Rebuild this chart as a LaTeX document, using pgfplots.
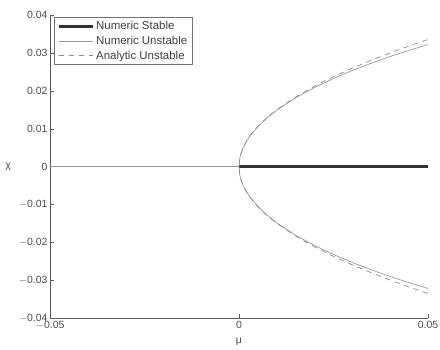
\documentclass[border=0pt]{standalone}
\usepackage{fontspec}
\setmainfont{Liberation Sans}
\usepackage{pgfplots}
\pgfplotsset{compat=1.18}
\begin{document}
\begin{tikzpicture}
\begin{axis}[
  scale only axis,
  width=378bp, height=303bp,
  xmin=-0.05, xmax=0.05, ymin=-0.04, ymax=0.04,
  scaled ticks=false,
  axis x line*=bottom, axis y line*=left,
  axis line style={black!65, line width=0.5pt},
  tick align=inside,
  major tick length=3.5bp,
  tick style={black!65},
  xtick={-0.05,0,0.05},
  xticklabels={$-$0.05,0,0.05},
  ytick={-0.04,-0.03,-0.02,-0.01,0,0.01,0.02,0.03,0.04},
  yticklabels={$-$0.04,$-$0.03,$-$0.02,$-$0.01,0,0.01,0.02,0.03,0.04},
  /pgf/number format/assume math mode=true,
  tick label style={font=\fontsize{10.5}{12}\selectfont, text=black!70},
  yticklabel style={xshift=1bp},
  xticklabel style={yshift=0bp},
  label style={font=\fontsize{10.5}{12}\selectfont, text=black!70},
  xlabel={μ},
  ylabel={χ},
  xlabel style={at={(axis description cs:0.5,-0.079)}, anchor=center},
  ylabel style={rotate=-90, at={(axis description cs:-0.111,0.5)}, anchor=center},
  legend style={at={(0.011,0.993)}, anchor=north west, draw=black!55, line width=0.4pt,
    font=\fontsize{11.5}{12.5}\selectfont, text=black!75, inner xsep=3pt, inner ysep=2pt, row sep=1pt,
    cells={anchor=west}},
  legend image post style={xscale=2.0},
]
\addplot[black!80, line width=2.8pt] coordinates {(0,0) (0.05,0)};
\addlegendentry{Numeric Stable}
\addplot[black!40, line width=0.7pt] coordinates {
(0.05,-0.0322) (0.045,-0.03067) (0.04,-0.02904) (0.035,-0.02727) (0.03,-0.02536)
(0.025,-0.02325) (0.02,-0.02087) (0.015,-0.01815) (0.01,-0.01488) (0.0075,-0.01291)
(0.005,-0.01057) (0.003,-0.00820) (0.002,-0.00670) (0.001,-0.00474) (0.0005,-0.00335)
(0.0002,-0.00212) (0,0)
(0.0002,0.00212) (0.0005,0.00335) (0.001,0.00474) (0.002,0.00670) (0.003,0.00820)
(0.005,0.01057) (0.0075,0.01291) (0.01,0.01488) (0.015,0.01815) (0.02,0.02087)
(0.025,0.02325) (0.03,0.02536) (0.035,0.02727) (0.04,0.02904) (0.045,0.03067) (0.05,0.0322)};
\addlegendentry{Numeric Unstable}
\addplot[black!45, line width=0.7pt, dashed, dash pattern=on 5.5bp off 4.5bp] coordinates {
(0.05,-0.03354) (0.045,-0.03182) (0.04,-0.03) (0.035,-0.02806) (0.03,-0.02598)
(0.025,-0.02372) (0.02,-0.02121) (0.015,-0.01837) (0.01,-0.015) (0.0075,-0.01299)
(0.005,-0.01061) (0.003,-0.00822) (0.002,-0.00671) (0.001,-0.00474) (0.0005,-0.00335)
(0.0002,-0.00212) (0,0)
(0.0002,0.00212) (0.0005,0.00335) (0.001,0.00474) (0.002,0.00671) (0.003,0.00822)
(0.005,0.01061) (0.0075,0.01299) (0.01,0.015) (0.015,0.01837) (0.02,0.02121)
(0.025,0.02372) (0.03,0.02598) (0.035,0.02806) (0.04,0.03) (0.045,0.03182) (0.05,0.03354)};
\addlegendentry{Analytic Unstable}
\addplot[black!40, line width=0.7pt, forget plot] coordinates {(-0.05,0) (0,0)};
\end{axis}
\pgfresetboundingbox
\path ([xshift=-50bp,yshift=-32bp]current axis.south west) rectangle ([xshift=12bp,yshift=15bp]current axis.north east);
\end{tikzpicture}
\end{document}
